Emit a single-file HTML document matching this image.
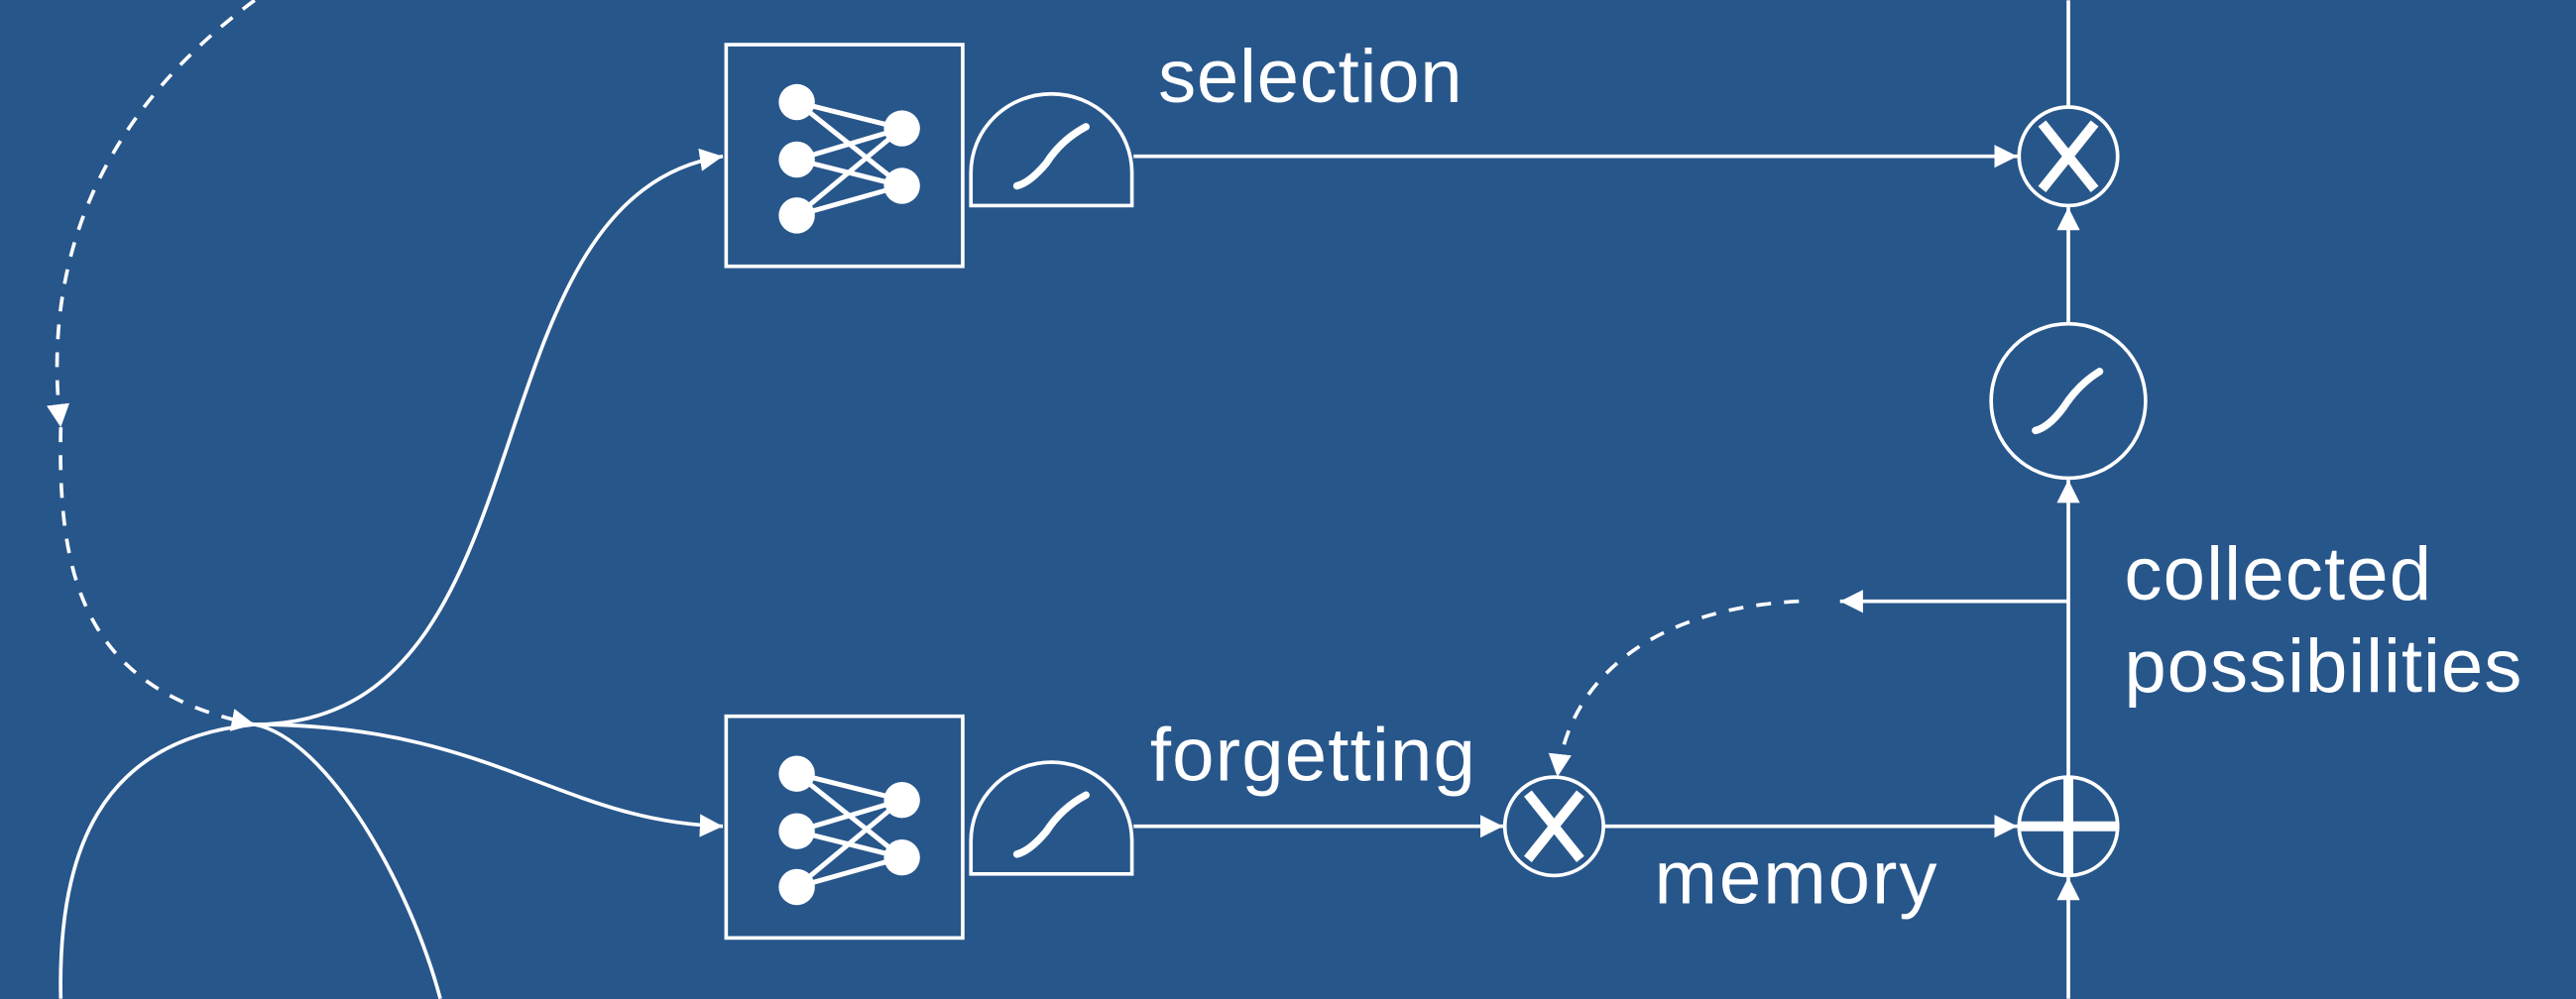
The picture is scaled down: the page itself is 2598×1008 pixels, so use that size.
<!DOCTYPE html>
<html><head><meta charset="utf-8"><style>
html,body{margin:0;padding:0;background:#27568b;}
svg{display:block;}
text{font-family:"Liberation Sans",Arial,sans-serif;fill:#fff;font-size:46px;}
</style></head><body>
<svg width="2598" height="1008" viewBox="0 0 1568 608" xmlns="http://www.w3.org/2000/svg">
<defs>
<marker id="a" viewBox="0 0 10 10" refX="10" refY="5" markerWidth="14" markerHeight="14" markerUnits="userSpaceOnUse" orient="auto"><path d="M0,0 L10,5 L0,10 Z" fill="#fff"/></marker>
<g id="nn">
<rect x="0" y="0" width="144" height="135" fill="none" stroke="#fff" stroke-width="2.2"/>
<g stroke="#fff" stroke-width="3">
<line x1="43" y1="35" x2="107" y2="51"/><line x1="43" y1="35" x2="107" y2="86"/>
<line x1="43" y1="70" x2="107" y2="51"/><line x1="43" y1="70" x2="107" y2="86"/>
<line x1="43" y1="104" x2="107" y2="51"/><line x1="43" y1="104" x2="107" y2="86"/>
</g>
<g fill="#fff"><circle cx="43" cy="35" r="11"/><circle cx="43" cy="70" r="11"/><circle cx="43" cy="104" r="11"/><circle cx="107" cy="51" r="11"/><circle cx="107" cy="86" r="11"/></g>
</g>
<g id="sig">
<path d="M0,68 L0,48 A49,48 0 0 1 98,48 L98,68 Z" fill="none" stroke="#fff" stroke-width="2.2"/>
<path d="M28,56 Q36,54 46,42 Q55,28 70,20" fill="none" stroke="#fff" stroke-width="4.5" stroke-linecap="round"/>
</g>
<g id="x"><circle r="30" fill="none" stroke="#fff" stroke-width="2.2"/><path d="M-16,-20 L16,20 M16,-20 L-16,20" stroke="#fff" stroke-width="6"/></g>
</defs>
<g fill="none" stroke="#fff" stroke-width="2.2">
<path d="M155,0 C60,70 25,160 37,260" stroke-dasharray="9,8" marker-end="url(#a)"/>
<path d="M37,260 C35,350 50,420 155,441" stroke-dasharray="9,8" marker-end="url(#a)"/>
<path d="M155,441 C340,441 280,120 440,95" marker-end="url(#a)"/>
<path d="M155,441 C300,441 340,500 440,503" marker-end="url(#a)"/>
<path d="M155,441 C60,450 35,520 37,608"/>
<path d="M155,441 C200,450 250,540 268,608"/>
<path d="M690,95 L1228,95" marker-end="url(#a)"/>
<path d="M1259,0 L1259,65"/>
<path d="M1259,197 L1259,126" marker-end="url(#a)"/>
<circle cx="1259" cy="244" r="47"/>
<path d="M1259,473 L1259,292" marker-end="url(#a)"/>
<path d="M1259,608 L1259,534" marker-end="url(#a)"/>
<circle cx="1259" cy="503" r="30"/>
<path d="M1259,366 L1120,366" marker-end="url(#a)"/>
<path d="M1095,366 C1010,370 955,410 948,473" stroke-dasharray="9,8" marker-end="url(#a)"/>
<path d="M690,503 L915,503" marker-end="url(#a)"/>
<path d="M976,503 L1228,503" marker-end="url(#a)"/>
</g>
<path d="M1259,474 L1259,532 M1230,503 L1288,503" stroke="#fff" stroke-width="6"/>
<path d="M1239,262 Q1247,260 1256,248 Q1265,234 1278,226" fill="none" stroke="#fff" stroke-width="4.5" stroke-linecap="round"/>
<use href="#nn" x="442" y="27"/>
<use href="#nn" x="442" y="436"/>
<use href="#sig" x="591" y="57"/>
<use href="#sig" x="591" y="464"/>
<use href="#x" x="1259" y="95"/>
<use href="#x" x="946" y="503"/>
<text x="705" y="62" textLength="185">selection</text>
<text x="700" y="475" textLength="198">forgetting</text>
<text x="1007" y="550" textLength="172">memory</text>
<text x="1293" y="365" textLength="187">collected</text>
<text x="1293" y="421" textLength="242">possibilities</text>
</svg>
</body></html>
